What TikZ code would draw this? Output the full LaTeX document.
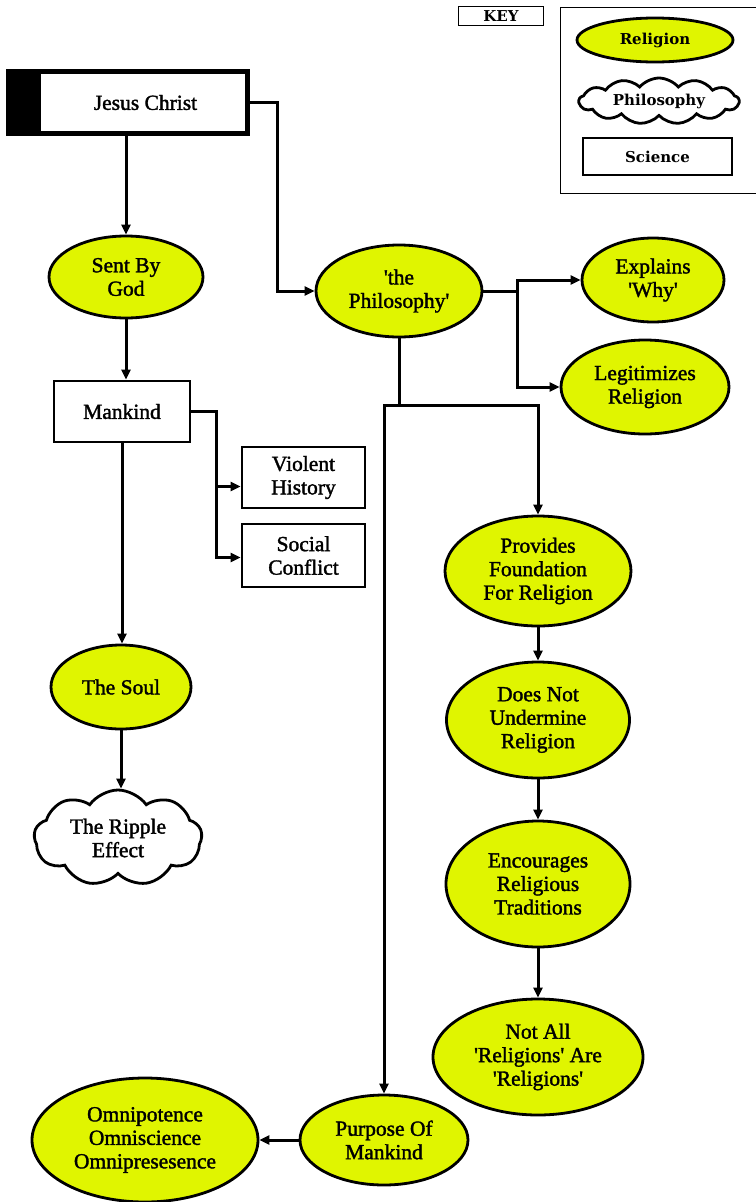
\documentclass[tikz,border=0pt]{standalone}
\usepackage{fontspec}
\setmainfont{Liberation Serif}[FakeBold=1.6, Ligatures=TeXOff]
\newfontfamily\keyfont{DejaVu Serif}
\usetikzlibrary{shapes.geometric,shapes.symbols,arrows.meta,calc}
\definecolor{relfill}{RGB}{224,245,0}
\begin{document}
\begin{tikzpicture}[x=1pt,y=-1pt,
  every node/.style={font=\fontsize{21.5}{23.5}\selectfont, align=center, inner sep=0pt},
  rel/.style={ellipse, draw, line width=2.8pt, fill=relfill},
  sci/.style={rectangle, draw, line width=2.8pt, fill=white},
  phl/.style={cloud, draw, line width=2.8pt, fill=white, cloud puffs=9, cloud puff arc=110, cloud ignores aspect},
  keytext/.style={font=\keyfont\bfseries\fontsize{15}{17}\selectfont},
  arr/.style={line width=3pt, -{Triangle[length=10pt,width=9pt]}},
  conn/.style={line width=3pt}]
\useasboundingbox (0,0) rectangle (755,1202);

% ---- key ----
\node[draw, line width=1.6pt, minimum width=85, minimum height=19, keytext] (keylabel) at (501,16) {KEY};
\node[draw, line width=1.4pt, minimum width=197, minimum height=186, anchor=north west] (keybox) at (560,7) {};
\node[rel, minimum width=156, minimum height=44, keytext] (krel) at (655,40) {Religion};
\node[phl, cloud puffs=13, cloud puff arc=100, minimum width=160, minimum height=46, keytext] (kphil) at (659,101) {Philosophy};
\node[sci, line width=2.8pt, minimum width=149, minimum height=37, keytext] (ksci) at (657.5,156.5) {Science};

% ---- nodes ----
\node[draw, line width=5pt, minimum width=239, minimum height=62, fill=white,
  path picture={\fill[black] (path picture bounding box.south west) rectangle ($(path picture bounding box.north west)+(32.5,0)$);}]
  (jesus) at (128,102.5) {\hspace*{35pt}Jesus Christ};

\node[rel, minimum width=154, minimum height=82] (sent) at (126,277) {Sent By\\God};
\node[sci, minimum width=136, minimum height=61] (mank) at (122,411.5) {Mankind};
\node[sci, minimum width=123, minimum height=61] (viol) at (303.5,477.5) {Violent\\History};
\node[sci, minimum width=123, minimum height=63] (soc) at (303.5,555.5) {Social\\Conflict};
\node[rel, minimum width=140, minimum height=84] (soul) at (121,687) {The Soul};
\node[phl, minimum width=168, minimum height=96] (ripple) at (118,838) {The Ripple\\Effect};

\node[rel, minimum width=166, minimum height=92] (phil) at (399,291) {'the\\Philosophy'};
\node[rel, minimum width=142, minimum height=84] (expl) at (653,280) {Explains\\'Why'};
\node[rel, minimum width=168, minimum height=94] (legit) at (645,387) {Legitimizes\\Religion};
\node[rel, minimum width=186, minimum height=110] (prov) at (538,571) {Provides\\Foundation\\For Religion};
\node[rel, minimum width=183, minimum height=116] (dnot) at (538,720) {Does Not\\Undermine\\Religion};
\node[rel, minimum width=184, minimum height=126] (enc) at (538,884) {Encourages\\Religious\\Traditions};
\node[rel, minimum width=210, minimum height=116] (nall) at (538,1057) {Not All\\'Religions' Are\\'Religions'};
\node[rel, minimum width=168, minimum height=90] (purp) at (384,1140) {Purpose Of\\Mankind};
\node[rel, minimum width=226, minimum height=124] (omni) at (145,1140) {Omnipotence\\Omniscience\\Omnipresesence};

% ---- connectors ----
\draw[arr] (sent.north |- jesus.south) -- (sent.north);
\draw[arr] (jesus.east) -| ($(phil.west)+(-37,0)$) -- (phil.west);
\draw[arr] (sent.south) -- (sent.south |- mank.north);
\coordinate (mk) at ($(mank.east)+(25,0)$);
\coordinate (va) at ($(viol.west)+(0,9)$);
\coordinate (sa) at ($(soc.west)+(0,2)$);
\draw[arr] (mank.east) -- (mk) |- (va);
\draw[arr] (mk |- va) |- (sa);
\draw[arr] (mank.south) -- (mank.south |- soul.north);
\draw[arr] (soul.south) -- (soul.south |- ripple.north);

\coordinate (pk) at ($(phil.east)+(34,0)$);
\draw[conn] (phil.east) -- (pk);
\draw[arr] (pk) |- (expl.west);
\draw[arr] (pk) |- (legit.west);
\coordinate (split) at (phil.south |- 0,405);
\draw[conn] (phil.south) -- (split);
\draw[arr] (split) -| (prov.north);
\draw[arr] (split) -| (purp.north);
\draw[arr] (prov.south) -- (dnot.north);
\draw[arr] (dnot.south) -- (enc.north);
\draw[arr] (enc.south) -- (nall.north);
\draw[arr] (purp.west) -- (omni.east);
\end{tikzpicture}
\end{document}
